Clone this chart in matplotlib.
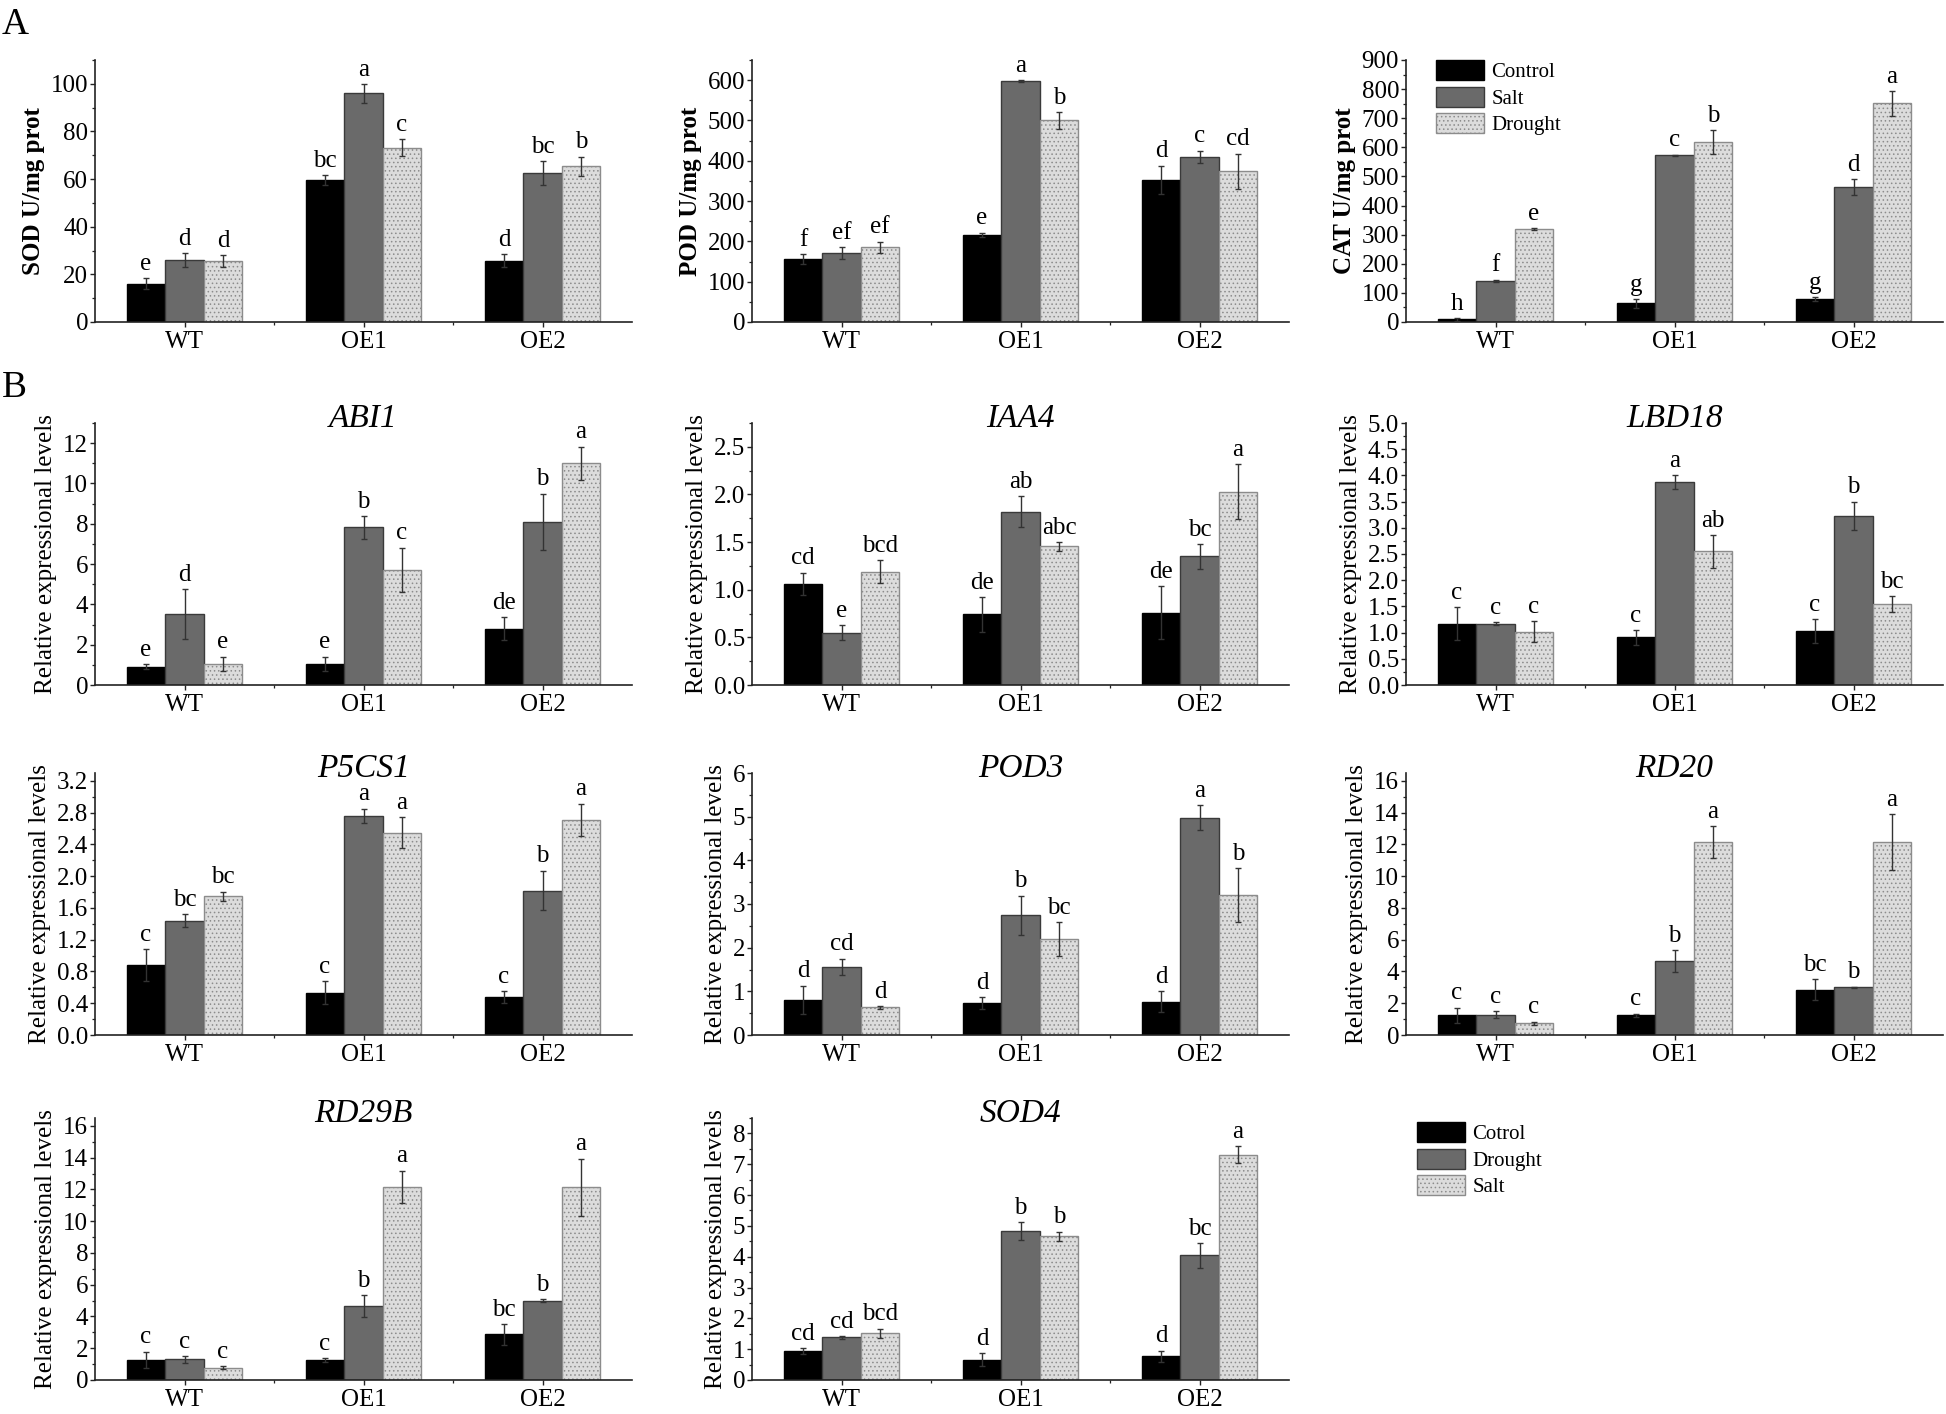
import matplotlib
matplotlib.use('Agg')
import matplotlib.pyplot as plt
from matplotlib.ticker import MultipleLocator, AutoMinorLocator, FixedLocator, FormatStrFormatter
import numpy as np

plt.rcParams['font.family'] = ['Liberation Serif', 'DejaVu Serif']
plt.rcParams['hatch.linewidth'] = 0.6

# ---------------- data ----------------
genotypes = ['WT', 'OE1', 'OE2']
legend_a = ['Control', 'Salt', 'Drought']
legend_b = ['Cotrol', 'Drought', 'Salt']

# rows: black series, dark-gray series, light series ; columns: WT, OE1, OE2
sod_mean = [[16.1, 59.6, 25.7], [26.0, 96.0, 62.6], [25.6, 73.2, 65.4]]
sod_err = [[2.2, 2.0, 2.8], [3.0, 3.9, 5.0], [2.5, 3.5, 4.0]]
sod_let = [['e', 'bc', 'd'], ['d', 'a', 'bc'], ['d', 'c', 'b']]

pod_mean = [[157, 217, 353], [171, 598, 410], [185, 500, 374]]
pod_err = [[12, 5, 35], [15, 2, 15], [14, 20, 44]]
pod_let = [['f', 'e', 'd'], ['ef', 'a', 'c'], ['ef', 'b', 'cd']]

cat_mean = [[9, 64, 79], [142, 572, 463], [319, 618, 751]]
cat_err = [[5, 15, 7], [3, 3, 27], [3, 42, 42]]
cat_let = [['h', 'g', 'g'], ['f', 'c', 'd'], ['e', 'b', 'a']]

abi1_mean = [[0.91, 1.04, 2.80], [3.50, 7.82, 8.09], [1.04, 5.71, 11.0]]
abi1_err = [[0.13, 0.36, 0.55], [1.24, 0.56, 1.40], [0.36, 1.10, 0.83]]
abi1_let = [['e', 'e', 'de'], ['d', 'b', 'b'], ['e', 'c', 'a']]

iaa4_mean = [[1.06, 0.74, 0.76], [0.55, 1.82, 1.35], [1.19, 1.455, 2.03]]
iaa4_err = [[0.12, 0.18, 0.28], [0.08, 0.16, 0.13], [0.12, 0.045, 0.29]]
iaa4_let = [['cd', 'de', 'de'], ['e', 'ab', 'bc'], ['bcd', 'abc', 'a']]

lbd18_mean = [[1.17, 0.91, 1.03], [1.17, 3.88, 3.23], [1.02, 2.55, 1.54]]
lbd18_err = [[0.31, 0.14, 0.23], [0.03, 0.13, 0.27], [0.20, 0.31, 0.15]]
lbd18_let = [['c', 'c', 'c'], ['c', 'a', 'b'], ['c', 'ab', 'bc']]

p5cs1_mean = [[0.88, 0.53, 0.48], [1.44, 2.76, 1.82], [1.745, 2.55, 2.71]]
p5cs1_err = [[0.20, 0.145, 0.075], [0.08, 0.09, 0.25], [0.06, 0.19, 0.205]]
p5cs1_let = [['c', 'c', 'c'], ['bc', 'a', 'b'], ['bc', 'a', 'a']]

pod3_mean = [[0.81, 0.73, 0.76], [1.56, 2.74, 4.98], [0.635, 2.19, 3.20]]
pod3_err = [[0.32, 0.14, 0.24], [0.19, 0.45, 0.29], [0.03, 0.39, 0.62]]
pod3_let = [['d', 'd', 'd'], ['cd', 'b', 'a'], ['d', 'bc', 'b']]

rd20_mean = [[1.23, 1.23, 2.85], [1.28, 4.64, 3.01], [0.73, 12.15, 12.15]]
rd20_err = [[0.50, 0.12, 0.65], [0.20, 0.70, 0.04], [0.10, 1.00, 1.75]]
rd20_let = [['c', 'c', 'bc'], ['c', 'b', 'b'], ['c', 'a', 'a']]

rd29b_mean = [[1.26, 1.26, 2.87], [1.30, 4.66, 5.00], [0.77, 12.15, 12.13]]
rd29b_err = [[0.52, 0.12, 0.65], [0.20, 0.70, 0.08], [0.10, 1.03, 1.80]]
rd29b_let = [['c', 'c', 'bc'], ['c', 'b', 'b'], ['c', 'a', 'a']]

sod4_mean = [[0.93, 0.65, 0.775], [1.38, 4.83, 4.04], [1.51, 4.66, 7.31]]
sod4_err = [[0.10, 0.21, 0.18], [0.04, 0.30, 0.41], [0.16, 0.15, 0.28]]
sod4_let = [['cd', 'd', 'd'], ['cd', 'b', 'bc'], ['bcd', 'b', 'a']]

# ---------------- style ----------------
FACE = ['#000000', '#6a6a6a', '#dcdcdc']
EDGE = ['#000000', '#3a3a3a', '#8c8c8c']
HATCH = [None, None, '....']
BARW = 0.215

W, H = 1946, 1414
fig = plt.figure(figsize=(W / 100, H / 100), dpi=100)

col_left = [95, 752, 1406]
col_w = 537
row_top = [60, 423, 773, 1118]
row_h = 262


def make_ax(r, c):
    l = col_left[c] / W
    b = 1 - (row_top[r] + row_h) / H
    return fig.add_axes([l, b, col_w / W, row_h / H])


def draw(ax, mean, err, let, ymax, ystep, fmt, ylabel, bold=False, title=None,
         labels=None):
    x = np.arange(len(genotypes))
    handles = []
    for s in range(3):
        pos = x + (s - 1) * BARW
        h = ax.bar(pos, mean[s], BARW, color=FACE[s], edgecolor=EDGE[s],
                   hatch=HATCH[s], linewidth=1.0, zorder=2,
                   label=labels[s] if labels else None)
        handles.append(h)
        ax.errorbar(pos, mean[s], yerr=err[s], fmt='none', ecolor='#333333',
                    elinewidth=1.0, capsize=2.5, capthick=1.0, zorder=3)
        for xi, m, e, t in zip(pos, mean[s], err[s], let[s]):
            ax.annotate(t, (xi, m + e), xytext=(0, 6), textcoords='offset points',
                        ha='center', va='baseline', fontsize=18)
    ax.set_xlim(-0.5, 2.5)
    ax.set_ylim(0, ymax)
    ax.set_xticks(x)
    ax.set_xticklabels(genotypes)
    ax.xaxis.set_minor_locator(FixedLocator([0.5, 1.5]))
    ax.yaxis.set_major_locator(MultipleLocator(ystep))
    ax.yaxis.set_minor_locator(AutoMinorLocator(2))
    ax.yaxis.set_major_formatter(FormatStrFormatter(fmt))
    for sp in ['top', 'right']:
        ax.spines[sp].set_visible(False)
    for sp in ['left', 'bottom']:
        ax.spines[sp].set_linewidth(1.2)
        ax.spines[sp].set_color('#222222')
    ax.tick_params(axis='both', which='major', direction='out', length=3.5,
                   width=1.0, labelsize=18, color='#222222')
    ax.tick_params(axis='y', which='major', pad=1.5)
    ax.tick_params(axis='x', which='major', pad=3)
    ax.tick_params(axis='both', which='minor', direction='out', length=2.2,
                   width=0.9, color='#222222')
    ax.set_ylabel(ylabel, fontsize=18, fontweight='bold' if bold else 'normal',
                  labelpad=4)
    if title:
        ax.text(0.5, 0.985, title, transform=ax.transAxes, ha='center',
                va='baseline', fontsize=24, fontstyle='italic')
    return handles


rel = 'Relative expressional levels'

ax = make_ax(0, 0)
draw(ax, sod_mean, sod_err, sod_let, 110, 20, '%d', 'SOD U/mg prot', bold=True)
ax = make_ax(0, 1)
draw(ax, pod_mean, pod_err, pod_let, 650, 100, '%d', 'POD U/mg prot', bold=True)
ax = make_ax(0, 2)
hA = draw(ax, cat_mean, cat_err, cat_let, 900, 100, '%d', 'CAT U/mg prot',
          bold=True, labels=legend_a)

ax = make_ax(1, 0)
draw(ax, abi1_mean, abi1_err, abi1_let, 13, 2, '%d', rel, title='ABI1')
ax = make_ax(1, 1)
draw(ax, iaa4_mean, iaa4_err, iaa4_let, 2.75, 0.5, '%.1f', rel, title='IAA4')
ax = make_ax(1, 2)
draw(ax, lbd18_mean, lbd18_err, lbd18_let, 5.0, 0.5, '%.1f', rel, title='LBD18')

ax = make_ax(2, 0)
draw(ax, p5cs1_mean, p5cs1_err, p5cs1_let, 3.3, 0.4, '%.1f', rel, title='P5CS1')
ax = make_ax(2, 1)
draw(ax, pod3_mean, pod3_err, pod3_let, 6.0, 1, '%d', rel, title='POD3')
ax = make_ax(2, 2)
draw(ax, rd20_mean, rd20_err, rd20_let, 16.5, 2, '%d', rel, title='RD20')

ax = make_ax(3, 0)
draw(ax, rd29b_mean, rd29b_err, rd29b_let, 16.5, 2, '%d', rel, title='RD29B')
ax = make_ax(3, 1)
hB = draw(ax, sod4_mean, sod4_err, sod4_let, 8.5, 1, '%d', rel, title='SOD4',
          labels=legend_b)

leg_kw = dict(loc='upper left', frameon=False, fontsize=15, handlelength=2.3,
              handleheight=1.1, labelspacing=0.22, handletextpad=0.35,
              borderaxespad=0, borderpad=0)
fig.legend(hA, legend_a, bbox_to_anchor=(1436 / W, 1 - 60 / H), **leg_kw)
fig.legend(hB, legend_b, bbox_to_anchor=(1417 / W, 1 - 1122 / H), **leg_kw)

fig.text(2 / W, 1 - 34 / H, 'A', fontsize=27, va='baseline', ha='left')
fig.text(2 / W, 1 - 397 / H, 'B', fontsize=27, va='baseline', ha='left')

fig.savefig('out.png', dpi=100)
